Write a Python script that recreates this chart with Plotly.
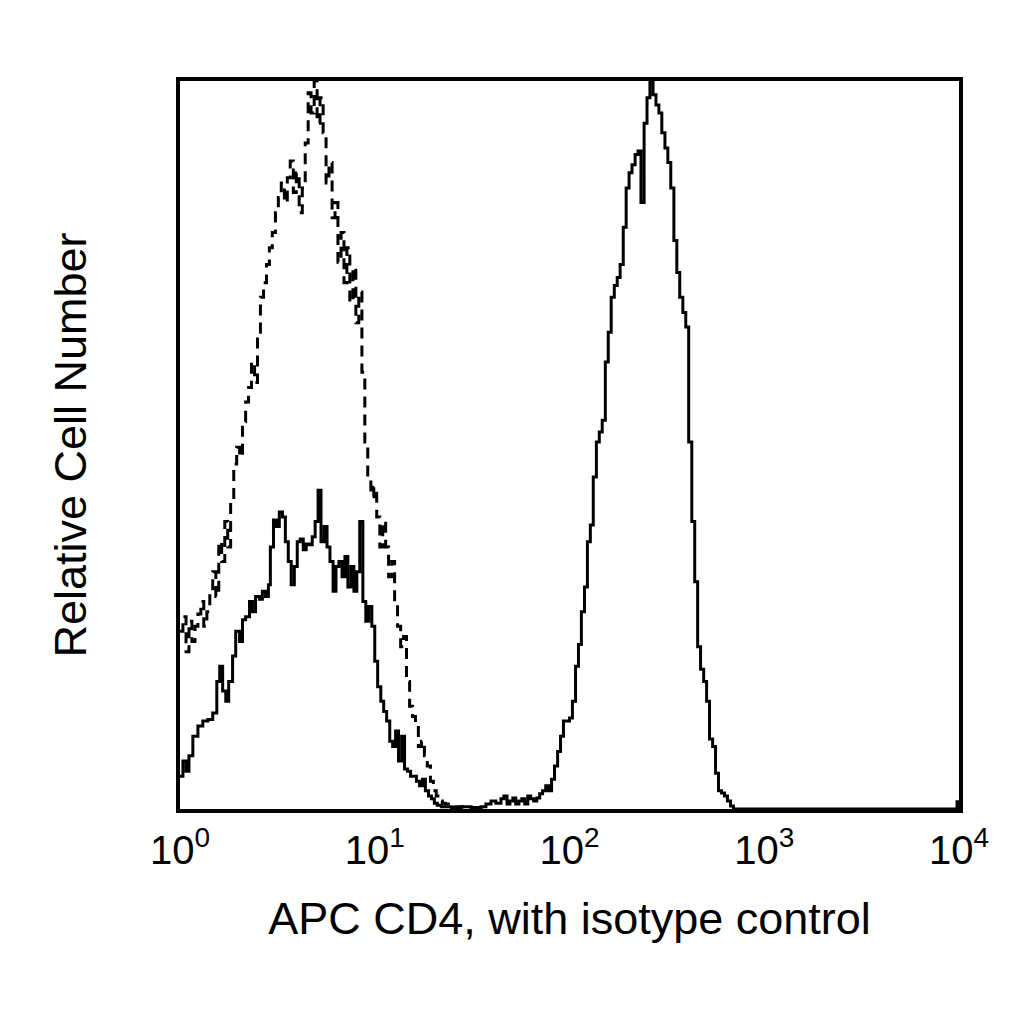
import numpy as np
import plotly.graph_objects as go

# APC CD4 stained cells: position in decades (log10 of intensity) and relative count (% of full scale)
cd4_decade = [
    0.000, 0.015, 0.031, 0.046, 0.066, 0.092, 0.117, 0.143, 0.168, 0.189,
    0.204, 0.219, 0.235, 0.250, 0.270, 0.286, 0.306, 0.321, 0.337, 0.357,
    0.372, 0.388, 0.408, 0.423, 0.439, 0.454, 0.464, 0.480, 0.495, 0.510,
    0.526, 0.541, 0.556, 0.571, 0.587, 0.602, 0.617, 0.633, 0.648, 0.663,
    0.679, 0.694, 0.709, 0.724, 0.740, 0.755, 0.770, 0.786, 0.801, 0.816,
    0.832, 0.847, 0.862, 0.878, 0.893, 0.908, 0.923, 0.939, 0.954, 0.969,
    0.985, 1.000, 1.015, 1.031, 1.046, 1.061, 1.077, 1.092, 1.107, 1.122,
    1.138, 1.153, 1.168, 1.184, 1.199, 1.214, 1.230, 1.245, 1.260, 1.276,
    1.291, 1.306, 1.321, 1.342, 1.393, 1.444, 1.495, 1.546, 1.571, 1.597,
    1.622, 1.648, 1.663, 1.679, 1.694, 1.709, 1.724, 1.740, 1.755, 1.770,
    1.786, 1.801, 1.816, 1.832, 1.847, 1.862, 1.878, 1.893, 1.908, 1.923,
    1.939, 1.954, 1.969, 1.985, 2.000, 2.015, 2.031, 2.046, 2.061, 2.077,
    2.092, 2.107, 2.122, 2.138, 2.153, 2.168, 2.184, 2.199, 2.214, 2.230,
    2.245, 2.260, 2.276, 2.291, 2.306, 2.321, 2.337, 2.352, 2.367, 2.383,
    2.398, 2.413, 2.429, 2.444, 2.459, 2.474, 2.490, 2.505, 2.520, 2.536,
    2.551, 2.566, 2.582, 2.597, 2.612, 2.628, 2.643, 2.658, 2.673, 2.689,
    2.704, 2.719, 2.735, 2.750, 2.765, 2.781, 2.796, 2.811, 2.827, 2.842,
    3.980, 3.990, 4.000,
]
cd4_count = [
    4.5, 6.6, 5.2, 7.3, 10.0, 11.4, 12.1, 12.3, 13.2, 17.5,
    19.6, 16.2, 14.8, 17.5, 21.0, 24.4, 23.0, 26.0, 26.4, 28.5,
    27.1, 29.2, 28.8, 29.9, 29.2, 30.8, 36.0, 39.7, 38.8, 40.8,
    40.1, 36.7, 34.0, 30.8, 33.3, 36.7, 37.1, 35.6, 36.4, 36.3,
    37.4, 39.5, 43.8, 36.7, 38.8, 36.0, 34.0, 29.9, 33.3, 34.0,
    31.9, 34.7, 30.5, 33.3, 29.9, 32.6, 39.5, 28.5, 25.8, 27.8,
    25.1, 20.3, 16.8, 14.8, 13.4, 12.1, 9.3, 8.6, 10.7, 6.6,
    10.0, 5.5, 5.2, 4.5, 4.5, 3.8, 3.2, 4.1, 2.5, 1.8,
    1.4, 0.8, 0.5, 0.3, 0.2, 0.3, 0.2, 0.3, 0.7, 1.1,
    0.8, 1.4, 1.8, 0.7, 1.1, 1.5, 0.7, 1.1, 1.4, 0.7,
    1.8, 1.4, 1.1, 1.5, 2.1, 2.5, 3.2, 2.5, 4.1, 5.9,
    7.9, 10.0, 12.1, 12.1, 12.5, 14.8, 19.6, 22.6, 27.1, 30.5,
    36.7, 39.0, 45.6, 50.4, 51.8, 53.4, 61.4, 65.5, 70.3, 71.9,
    73.0, 74.8, 79.9, 85.3, 87.4, 88.5, 89.9, 90.4, 83.3, 94.2,
    97.7, 100.0, 98.1, 96.7, 95.6, 92.9, 90.8, 88.8, 85.3, 78.1,
    73.7, 70.3, 68.2, 66.2, 50.4, 39.5, 31.2, 22.3, 19.2, 17.5,
    14.8, 9.6, 8.6, 4.9, 2.5, 2.2, 1.8, 1.1, 0.4, 0.0,
    0.0, 1.0, 0.0,
]

# isotype control
iso_decade = [
    0.000, 0.015, 0.031, 0.046, 0.061, 0.077, 0.092, 0.107, 0.122, 0.138,
    0.153, 0.168, 0.184, 0.199, 0.214, 0.230, 0.245, 0.260, 0.276, 0.291,
    0.306, 0.321, 0.337, 0.352, 0.367, 0.383, 0.398, 0.413, 0.429, 0.444,
    0.459, 0.474, 0.490, 0.505, 0.520, 0.536, 0.551, 0.566, 0.582, 0.597,
    0.612, 0.628, 0.643, 0.658, 0.673, 0.689, 0.704, 0.719, 0.735, 0.750,
    0.765, 0.781, 0.796, 0.811, 0.827, 0.842, 0.857, 0.872, 0.888, 0.903,
    0.918, 0.934, 0.949, 0.964, 0.980, 0.995, 1.010, 1.026, 1.041, 1.056,
    1.071, 1.087, 1.102, 1.117, 1.133, 1.148, 1.163, 1.179, 1.194, 1.209,
    1.224, 1.240, 1.255, 1.270, 1.286, 1.301, 1.316, 1.332, 1.347, 1.362,
    1.378, 1.393, 1.444, 1.495, 1.520,
]
iso_count = [
    24.4, 26.4, 21.6, 25.8, 23.0, 25.1, 26.8, 28.5, 25.1, 27.1,
    29.9, 32.6, 29.2, 36.7, 34.0, 39.5, 36.0, 42.2, 47.4, 49.7,
    48.4, 53.2, 55.9, 57.9, 61.4, 58.6, 65.5, 70.3, 72.3, 74.8,
    77.1, 79.2, 81.9, 84.0, 86.0, 83.3, 86.7, 89.0, 84.7, 87.4,
    81.9, 85.3, 91.5, 98.4, 95.6, 100.0, 94.2, 97.7, 92.9, 86.0,
    88.8, 81.2, 83.3, 75.1, 79.2, 72.3, 77.1, 69.6, 74.4, 66.8,
    71.0, 60.0, 50.4, 45.6, 42.9, 44.2, 40.1, 36.0, 39.5, 36.0,
    31.9, 34.0, 28.5, 25.1, 22.3, 23.7, 17.5, 14.1, 12.7, 11.4,
    8.6, 9.3, 7.3, 5.9, 3.8, 2.5, 1.8, 1.1, 0.8, 0.7,
    0.5, 0.3, 0.3, 0.1, 0.0,
]

tick_values = [1, 10, 100, 1000, 10000]
tick_labels = ["10<sup>0</sup>", "10<sup>1</sup>", "10<sup>2</sup>", "10<sup>3</sup>", "10<sup>4</sup>"]

font_family = "Liberation Sans, Arial, sans-serif"

fig = go.Figure()

fig.add_trace(
    go.Scatter(
        x=10 ** np.array(iso_decade),
        y=iso_count,
        mode="lines",
        line=dict(color="black", width=3, dash="11px,7px", shape="hv"),
        name="Isotype control",
    )
)
fig.add_trace(
    go.Scatter(
        x=10 ** np.array(cd4_decade),
        y=cd4_count,
        mode="lines",
        line=dict(color="black", width=3, shape="hv"),
        name="APC CD4",
    )
)

fig.update_xaxes(
    type="log",
    range=[0, 4],
    tickvals=tick_values,
    ticktext=tick_labels,
    ticks="",
    ticklabelstandoff=3,
    showgrid=False,
    zeroline=False,
    showline=True,
    mirror=True,
    linecolor="black",
    linewidth=4,
    tickfont=dict(family=font_family, size=40, color="black"),
    title=dict(
        text="APC CD4, with isotype control",
        font=dict(family=font_family, size=45, color="black"),
        standoff=32,
    ),
)
fig.update_yaxes(
    range=[0, 100],
    showticklabels=False,
    ticks="",
    showgrid=False,
    zeroline=False,
    showline=True,
    mirror=True,
    linecolor="black",
    linewidth=4,
    title=dict(
        text="Relative Cell Number",
        font=dict(family=font_family, size=45, color="black"),
        standoff=76,
    ),
)

fig.update_layout(
    width=1024,
    height=1024,
    margin=dict(l=172, r=73, t=73, b=223),
    plot_bgcolor="white",
    paper_bgcolor="white",
    showlegend=False,
)

fig.write_html("out.html")
